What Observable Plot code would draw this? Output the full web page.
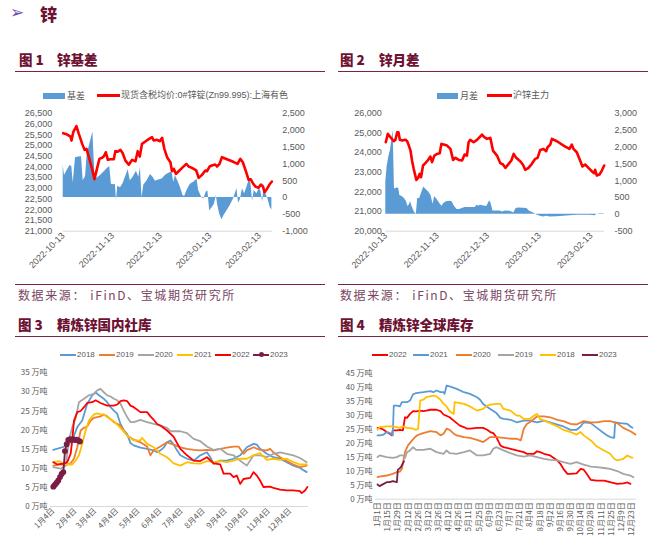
<!DOCTYPE html>
<html><head><meta charset="utf-8">
<script src="https://cdn.jsdelivr.net/npm/d3@7"></script>
<script src="https://cdn.jsdelivr.net/npm/@observablehq/plot@0.6"></script>
<style>
html,body{margin:0;padding:0;background:#fff;}
#root{position:relative;width:665px;height:546px;overflow:hidden;font-family:"Noto Sans CJK SC","Noto Sans",sans-serif;}
.abs{position:absolute;white-space:pre;line-height:1;}
.title{color:#6e1233;font-weight:900;font-size:13.5px;}
.rule{position:absolute;height:0;border-top:1.5px solid #7b2346;}
.src{color:#7a4563;font-size:12px;letter-spacing:1.6px;}
.leg{color:#595959;}
.panel{position:absolute;}
.panel svg{overflow:visible;}
</style></head><body><div id="root"></div>
<script>
// ================= DATA =================
// Figure 1: zinc basis (days since 2022-10-13)
const p1Names = ["基差", "现货含税均价:0#锌锭(Zn99.995):上海有色"];
const p1PriceDays = [0,2.5,4.6,5.2,6.3,8.3,9.8,11.9,13.4,14.6,16.1,18.1,19.6,21.3,22.7,24.4,25.4,26.7,28,29.6,31.7,32.7,34.2,35.9,37.3,39,41.1,43.2,45.3,46.7,48,49.4,51.5,53.6,55.7,56.7,58.8,60.5,62,63.4,65.1,67.2,68.2,69.3,70.7,72.4,74.5,77.2,78.6,80.7,83.4,84.9,87,89.1,90.1,91.8,93.2,95.3,96.4,98,99.5,102.6,105.8,109.3,111,112.6,114.7,116.2,117.6,118.9,120.4,122.4,123.9,125.2,126.2,127.7,129.3,130.8];
const p1Price = [25570,25505,25410,25225,25615,25895,25535,25070,24790,24840,24450,23905,23425,23950,24370,24420,24480,24680,24325,24355,24355,24730,24710,24790,24635,24290,24100,24325,24260,24730,24480,25070,25180,25290,25380,25225,25260,25195,25350,24840,24450,24215,23795,23905,23670,23795,23950,24140,24015,23950,23830,23485,23625,23830,23795,24015,24060,24110,24015,24140,24450,24355,24260,24140,24370,24215,23750,23390,23420,23235,23080,23020,23175,23080,22815,22970,23175,23315];
const p1BasisDays = [0,0.8,2.5,4.2,5.4,6.3,7.7,9.8,11.5,12.5,14,15,16.7,18.6,20,21.3,23.4,25.4,27.5,29.2,30.2,31.7,32.7,33.4,34.2,35.9,37.5,39,40.7,42.1,43.8,45.9,47.4,48.4,49.4,50.5,52.6,54.7,56.3,57.8,59.9,62,64,66.1,68.2,69.3,70.3,71.8,73.4,75.1,76.1,77.6,79.7,81.8,83.9,84.9,86.6,88,89.7,90.7,91.8,93.2,94.7,96,96.8,98,99.5,100.9,102.6,104.7,106.8,108.9,109.9,111,112.4,113.7,115.2,116.4,117.6,118.7,119.7,121.4,122.9,123.9,125,126,127,128.3,129.7,130.8];
const p1Basis = [950,650,800,950,920,430,1180,1200,1210,500,620,1250,1590,1940,540,580,650,750,850,920,390,380,390,-90,330,290,410,600,820,500,600,780,600,880,-10,360,500,680,600,480,520,550,650,720,750,450,650,500,310,60,30,210,390,450,540,210,30,-50,160,190,-390,-310,-210,60,-210,-480,-660,-530,-400,-240,-40,260,-170,-70,260,110,310,500,450,-110,210,110,260,190,-140,400,110,-40,-290,-370];
const p1LeftTicks = [21000,21500,22000,22500,23000,23500,24000,24500,25000,25500,26000,26500];
const p1RightTicks = [-1000,-500,0,500,1000,1500,2000,2500];

// Figure 2: zinc calendar spread
const p2Names = ["月差", "沪锌主力"];
const p2PriceDays = [0,1.2,2.8,4.8,5.8,6.8,7.6,8.4,9.8,11.8,12.8,13.8,14.8,15.7,16.7,18.3,19.3,20.3,21.1,22.3,23.7,25.1,26.7,27.7,29.1,30.7,32.3,33.3,34.7,36.7,38.7,40.3,41.7,43.7,45.7,47.2,48.6,49.6,50.6,52.6,54.6,56.6,57.6,59,60.6,62.6,64.2,66.6,68.6,70.2,71.6,73.6,75.2,76.6,78.1,80.5,82.1,83.5,85.5,87.5,89.5,90.9,92.5,94.5,96.1,96.9,98.5,99.5,102.5,106.5,110,111.4,112.4,114.4,116.4,117.8,119.4,121.4,123.4,124.8,125.4,126.4,128,129.4,130.8];
const p2Price = [24525,24950,24780,24575,24645,25035,25035,24645,24610,24645,24575,24355,24100,23595,23170,22610,22710,22915,22745,23340,23460,23595,23795,23510,23845,23930,23965,24440,24405,24355,24185,23625,23730,23625,23595,23900,23845,24525,24645,24525,24645,24815,24915,24780,24695,24745,24100,23845,23460,23390,23220,23425,23595,23930,23730,23560,23390,23120,23220,23425,23680,23730,24135,24185,24070,24270,24405,24695,24575,24355,24185,24405,24185,24015,23595,23290,23390,23220,23050,22950,23120,22830,22880,23085,23340];
const p2SpreadDays = [0,0.8,1.8,2.8,3.8,4.4,5.2,6,6.8,7.8,8.4,9.8,11.2,12.4,13.2,14,14.8,15.7,17.1,18.3,19.1,20.3,21.3,22.7,24.3,25.7,27.1,28.3,29.3,30.7,32.3,33.7,34.7,36.3,38.3,39.7,41.1,42.7,44.3,45.7,47.6,49.6,51.6,53.6,54.6,55.6,56.6,59.6,60.6,62.2,63,64.2,66.6,68.6,69.6,71.6,74.6,76.6,78.1,79.5,82.5,84.5,86.1,88.5,90.5,92.5,94.5,96.5,98.5,102.5,106.5,110.4,114.4,118.4,122.4,125.4,126.4,128.4,130.8];
const p2Spread = [960,1420,1700,1900,2290,2480,760,760,790,760,560,530,470,370,240,270,370,240,70,0,470,470,610,810,730,660,560,300,530,440,320,240,320,370,390,370,240,140,140,170,200,200,200,200,270,240,270,240,240,400,340,100,100,100,70,100,90,40,170,190,180,170,90,40,-20,-60,-80,-60,-80,-70,-60,-40,-30,-30,-30,-40,0,20,20];
const p2LeftTicks = [20000,21000,22000,23000,24000,25000,26000];
const p2RightTicks = [-500,0,500,1000,1500,2000,2500,3000];

const dateTickLabels = ["2022-10-13","2022-11-13","2022-12-13","2023-01-13","2023-02-13"];

// Figure 3: domestic social inventory, [day of year, 万吨]
const p3Years = ["2018","2019","2020","2021","2022","2023"];
const inv3_2018 = [[4,14.8],[23.7,15.9],[30.7,17.3],[37.8,20.8],[44.8,22.5],[51.8,26.9],[58.9,29.1],[63.6,29.9],[68.3,29.1],[75.3,28.2],[80,27.3],[84.7,26],[89.4,25.1],[94.1,24.3],[98.7,21.6],[103.4,19.9],[108.1,19],[112.8,16.6],[117.5,16],[126.9,15.4],[136.3,15.1],[145.7,14.7],[150.3,14.2],[155,14.7],[159.7,15.4],[164.4,16.8],[169.1,17.3],[173.8,16.2],[178.5,14.7],[183.2,13.4],[192.6,12.5],[202,12],[211.3,13.4],[216,13.8],[220.7,14.2],[225.4,12.9],[230.1,11.2],[239.5,12],[248.8,12],[258.2,12.5],[267.6,13.4],[277,15.5],[286.4,16.4],[291.1,16.2],[295.7,15.1],[305.1,13.8],[314.5,12.9],[323.9,12.5],[333.3,11.6],[342.7,10.7],[352,10.1],[361.4,9]];
const inv3_2019 = [[4,10.7],[14.3,11],[23.7,11],[28.4,11.3],[33.1,12.5],[37.8,15.5],[42.5,19.9],[47.2,20.6],[51.8,20.9],[56.5,22.5],[61.2,23.2],[70.6,23.6],[75.3,24.1],[80,23.6],[89.4,22.1],[98.7,21.2],[108.1,18.6],[117.5,17.5],[126.9,16.8],[136.3,15.7],[141,13.4],[145.7,14.7],[155,15.7],[164.4,16.8],[173.8,16.2],[183.2,15.5],[192.6,15.1],[202,14.8],[211.3,14.7],[220.7,14.8],[230.1,14.7],[239.5,15.1],[248.8,15.4],[258.2,15.7],[265.3,15.7],[272.3,13.8],[277,14.7],[286.4,15.5],[295.7,14.8],[305.1,14.7],[309.8,15.1],[314.5,14.2],[323.9,12.9],[333.3,11.9],[342.7,11],[352,10.3],[361.4,10.7]];
const inv3_2020 = [[4,10.3],[14.3,9.9],[21.4,10.7],[26,17.3],[30.7,20.8],[35.4,23],[40.1,27.3],[47.2,28.2],[54.2,29.1],[61.2,29.5],[65.9,30.4],[70.6,30.8],[75.3,29.9],[80,29.1],[84.7,28.8],[89.4,28.2],[94.1,27.8],[98.7,26.9],[103.4,25.1],[108.1,23.4],[112.8,22.1],[117.5,22.1],[126.9,22.7],[136.3,22.1],[145.7,21.6],[155,21.2],[164.4,20.6],[169.1,19.7],[173.8,19.7],[183.2,19.7],[192.6,19.2],[202,17.7],[211.3,17.1],[220.7,15.7],[230.1,14.8],[239.5,15.1],[248.8,13.8],[258.2,13.4],[267.6,12],[277,10.7],[286.4,13.4],[295.7,13.4],[305.1,12.9],[314.5,13.8],[323.9,14.2],[333.3,13.8],[342.7,13.4],[352,12.7],[361.4,11.6]];
const inv3_2021 = [[4,11.6],[12,11.9],[19,11.2],[23.7,11],[30.7,11],[35.4,12],[40.1,13.4],[44.8,16.4],[49.5,19.9],[54.2,22.5],[61.2,24.1],[65.9,24.4],[70.6,24.1],[75.3,24.1],[80,23.4],[89.4,22.3],[98.7,20.6],[108.1,18.6],[117.5,17.3],[126.9,17.3],[129.2,18],[136.3,16.4],[145.7,15.5],[155,13.8],[164.4,12.9],[173.8,11.3],[183.2,10.7],[192.6,11.6],[202,11.3],[211.3,11.2],[220.7,11.9],[230.1,11.6],[239.5,11.9],[248.8,11.6],[258.2,12],[267.6,12.5],[277,12.5],[286.4,13.4],[295.7,14],[305.1,12.2],[314.5,12.5],[323.9,12.2],[333.3,12.5],[342.7,11.6],[352,11],[361.4,11]];
const inv3_2022 = [[4,11.6],[9.6,11],[19,11.2],[23.7,11.6],[28.4,13.8],[30.7,17.3],[33.1,22.5],[37.8,24.7],[42.5,25],[47.2,26],[51.8,27.1],[58.9,27.3],[63.6,27.8],[70.6,27.1],[80,26.4],[89.4,26.4],[94.1,26.7],[98.7,27.6],[103.4,27.8],[108.1,27.6],[112.8,26.4],[117.5,26],[126.9,24.7],[136.3,24.7],[141,23.6],[145.7,22.7],[150.3,21.6],[155,21.2],[164.4,19.9],[173.8,18.2],[183.2,15.1],[192.6,13.4],[202,12],[211.3,11.9],[220.7,12.9],[230.1,11.3],[239.5,11],[244.2,8.6],[253.5,8.6],[258.2,7.7],[262.9,8.1],[267.6,5.9],[272.3,7.2],[281.7,7.5],[286.4,9],[291.1,8.1],[295.7,6.8],[300.4,5.1],[309.8,5.2],[314.5,4.9],[323.9,4.4],[333.3,4.2],[342.7,4.2],[352,4],[354.4,3.5],[359.1,4.2],[362.4,5.1]];
const inv3_2023 = [[4,5.2],[6.3,5.7],[8.7,6.2],[11,6.8],[13.4,7.7],[15.7,8.5],[18.1,9],[20.4,14.5],[22.8,16.3],[25.1,17.4],[27.5,17.6],[29.8,17.5],[32.1,17.6],[34.5,17.4],[36.8,17.5],[39.2,17.3],[41.5,17]];
const p3TickDays = [4,35,63,94,124,155,185,216,247,277,308,338];
const p3TickLabels = ["1月4日","2月4日","3月4日","4月4日","5月4日","6月4日","7月4日","8月4日","9月4日","10月4日","11月4日","12月4日"];
const p3YTicks = [0,5,10,15,20,25,30,35];

// Figure 4: global refined zinc inventory, [trading-day index, 万吨]
const p4Years = ["2022","2021","2020","2019","2018","2023"];
const inv4_2022 = [[0,25.6],[2,25.6],[6,24.9],[9,24.1],[12,23.5],[14,22.9],[15,24.7],[19,24.7],[22,24.9],[25,24.7],[27,29.4],[29,29.2],[32,30.6],[35,31.6],[38,31.5],[42,31.8],[45,31.6],[48,31.8],[52,32.1],[58,32.1],[62,31.6],[65,30.4],[71,29.4],[75,28.2],[78,27.3],[81,26.4],[85,25.9],[88,25.3],[91,25.3],[98,25.6],[104,25.6],[108,24.9],[111,24.1],[114,23.7],[117,22.3],[121,19.3],[124,18.7],[131,18.1],[137,17.5],[144,16.9],[147,16.3],[154,16.3],[157,17.2],[160,16.9],[164,16.3],[170,15.7],[177,13.9],[180,12.7],[183,10.9],[187,9.1],[190,9.1],[196,9.3],[200,10.9],[203,10.6],[206,9.1],[210,6.9],[216,6.7],[223,6.7],[229,6.1],[236,5.5],[242,5.7],[246,6],[249,5.5]];
const inv4_2021 = [[0,22.9],[2,22.9],[6,23.2],[9,24.1],[12,23.8],[15,22.9],[16,33.6],[19,33.6],[22,33.3],[24,34.8],[29,34.8],[32,35.4],[34,36.9],[35,37.6],[38,38.1],[45,38.4],[52,38.8],[55,38.4],[58,39],[62,38.4],[65,38.4],[66,37.8],[68,40.8],[71,40.5],[78,39.6],[85,38.4],[91,37.8],[98,36.6],[101,35.7],[104,34.2],[111,32.4],[117,30.9],[121,29.2],[124,28.8],[131,28.5],[137,27.6],[144,28.2],[150,28.2],[157,27.6],[164,28.2],[170,27.6],[177,26.8],[183,26.1],[190,24.9],[196,24.9],[200,26.1],[203,27.6],[210,27.3],[216,25.6],[223,23.7],[226,22.9],[229,22.3],[233,22],[234,27.6],[239,27.3],[246,27],[249,26.1],[251,25.6]];
const inv4_2020 = [[0,7.9],[2,8.1],[9,8.5],[15,9.1],[19,9.7],[22,9.9],[24,10.9],[27,16.9],[30,19.3],[34,21.1],[37,22.3],[40,23.1],[45,23.7],[52,24.4],[58,24.1],[62,22.9],[65,23.5],[68,25.3],[71,24.9],[75,23.5],[78,22.9],[85,22.3],[91,22],[98,21.3],[104,20.5],[111,22.3],[117,22.3],[124,22],[131,21.7],[137,21.7],[141,21.1],[144,25.3],[147,27],[150,27.6],[154,28.8],[157,29.7],[164,29.7],[170,29.4],[177,28.5],[183,28],[190,27],[196,26.8],[203,28],[210,27.6],[216,27.6],[223,28],[229,28],[236,27.3],[242,25.6],[249,24.4],[254,23.2]];
const inv4_2019 = [[0,15.1],[2,15.7],[9,15.1],[15,14.8],[19,15.1],[22,15.7],[25,15.7],[27,14.8],[29,16.9],[32,17.5],[35,18.7],[38,17.7],[45,17.7],[52,18.1],[58,16.9],[65,16.3],[68,17.5],[71,16.5],[78,16.3],[85,16.9],[91,17.5],[98,15.7],[104,15.7],[111,16.3],[114,18.1],[117,18.7],[124,17.5],[131,16.5],[137,15.7],[144,15.3],[150,15.7],[157,15.1],[164,14.5],[170,14.1],[177,13.9],[183,13.3],[190,12.7],[196,13.3],[203,12.4],[210,11.7],[216,11.5],[223,11.2],[229,10.9],[236,10.1],[242,9.1],[249,8.5],[252,7.9]];
const inv4_2018 = [[0,24.9],[2,25.9],[9,26.1],[15,26.1],[22,25.6],[25,26.1],[29,25.6],[35,25.3],[38,24.9],[40,25.3],[42,35.4],[45,35.7],[48,36.6],[55,37.2],[58,36.9],[62,35.7],[65,34.2],[68,33.3],[71,31.6],[75,30.6],[76,34.8],[81,34.5],[85,34.2],[91,33.3],[98,31.8],[104,32.4],[108,33.6],[111,33.9],[117,34.2],[121,34.2],[124,32.4],[131,31.8],[137,30],[140,30],[144,28.8],[150,28.8],[154,30],[157,30.6],[160,28.8],[164,28.2],[170,27.3],[177,26.1],[183,24.9],[190,24.1],[196,23.2],[200,24.1],[203,22.9],[210,21.1],[216,18.9],[223,17.5],[229,16.3],[233,14.5],[236,13.9],[242,14.5],[246,15.7],[249,15.1],[251,14.9]];
const inv4_2023 = [[0,5.3],[2,4.7],[6,5.5],[9,6.1],[12,6.1],[15,6.5],[19,6.1],[20,10.5],[23,11.5],[25,12.9],[26,13.6]];
const p4TickLabels = ["1月1日","1月15日","1月29日","2月12日","2月26日","3月12日","3月26日","4月12日","4月26日","5月11日","5月25日","6月9日","6月23日","7月7日","7月21日","8月4日","8月18日","9月2日","9月16日","9月30日","10月14日","10月28日","11月11日","11月25日","12月9日","12月23日"];
const p4YTicks = [0,5,10,15,20,25,30,35,40,45];

// ================= LAYOUT / STYLE =================
const colors = {"2018":"#5b9bd5","2019":"#ed7d31","2020":"#a5a5a5","2021":"#ffc000","2022":"#ff0000","2023":"#7a1e45"};
const p4Colors = {"2022":"#ff0000","2021":"#5b9bd5","2020":"#ed7d31","2019":"#a5a5a5","2018":"#ffc000","2023":"#7a1e45"};
const numFont = '"Liberation Sans","Noto Sans CJK SC",sans-serif';
const cjkFont = '"Noto Sans CJK SC","Noto Sans",sans-serif';
const fmt = d3.formatLocale({decimal:".",thousands:",",grouping:[3],currency:["",""],minus:"-"}).format(",");
const root = document.getElementById("root");

function text(str, left, cy, size, cls, extra) {
  const el = document.createElement("div");
  el.className = "abs " + (cls || "");
  el.textContent = str;
  el.style.left = left + "px";
  el.style.top = (cy - size / 2) + "px";
  el.style.fontSize = size + "px";
  if (extra) Object.assign(el.style, extra);
  root.appendChild(el);
  return el;
}
function box(left, top, w, h, bg, extra) {
  const el = document.createElement("div");
  Object.assign(el.style, {position:"absolute", left:left+"px", top:top+"px", width:w+"px", height:h+"px", background:bg}, extra || {});
  root.appendChild(el);
  return el;
}
function rule(left, top, w) {
  const el = document.createElement("div");
  el.className = "rule";
  Object.assign(el.style, {left:left+"px", top:top+"px", width:w+"px"});
  root.appendChild(el);
}
function mount(svg, left, top) {
  const d = document.createElement("div");
  d.className = "panel";
  d.style.left = left + "px"; d.style.top = top + "px";
  d.appendChild(svg);
  root.appendChild(d);
}

// Header
text("➢", 10, 12, 17, "", {color:"#6a4fb0", fontFamily:'"DejaVu Sans",sans-serif'});
text("锌", 40, 13.5, 17, "title", {fontSize:"17px"});

// Titles, rules and sources
text("图 1", 19, 60, 13.5, "title");
text("锌基差", 57, 60, 13.5, "title");
text("图 2", 340, 60, 13.5, "title");
text("锌月差", 379, 60, 13.5, "title");
rule(15, 71, 310); rule(338, 71, 310);
rule(15, 284, 310); rule(338, 284, 310);
text("数据来源： iFinD、宝城期货研究所", 18, 295, 12, "src");
text("数据来源： iFinD、宝城期货研究所", 340, 295, 12, "src");
text("图 3", 18, 325, 13.5, "title");
text("精炼锌国内社库", 57, 325, 13.5, "title");
text("图 4", 340, 325, 13.5, "title");
text("精炼锌全球库存", 379, 325, 13.5, "title");
rule(15, 336, 310); rule(338, 336, 310);

// Legends
function areaLineLegend(names, sx, tx, lx, ltx, cy) {
  box(sx, cy - 3, tx - sx - 2, 6, "#5b9bd5");
  text(names[0], tx, cy, 9, "leg", {fontFamily: cjkFont});
  box(lx, cy - 1.25, ltx - lx - 1, 2.5, "#ff0000");
  text(names[1], ltx, cy, 9, "leg", {fontFamily: numFont});
}
areaLineLegend(p1Names, 43, 67, 97, 121, 95.5);
areaLineLegend(p2Names, 437, 460, 487, 513, 95.5);

function lineLegend(years, cmap, xs, cy, markerYear) {
  years.forEach((y, i) => {
    const x0 = xs[i];
    box(x0, cy - 1, 16, 2, cmap[y]);
    if (y === markerYear) box(x0 + 5.5, cy - 2.5, 5, 5, cmap[y], {borderRadius:"50%"});
    text(y, x0 + 17, cy, 8, "leg", {fontFamily: numFont});
  });
}
lineLegend(p3Years, colors, [60,99,138,177,215,253], 354.5, "2023");
lineLegend(p4Years, p4Colors, [372,413,456,498,540,582], 355, null);

// ================= CHARTS =================
function dualPanel(o) {
  const base = Date.UTC(2022, 9, 13);
  const day = d => new Date(base + d * 864e5);
  const k = (o.leftDom[1] - o.leftDom[0]) / (o.rightDom[1] - o.rightDom[0]);
  const toL = v => o.leftDom[0] + (v - o.rightDom[0]) * k;
  const fromL = y => o.rightDom[0] + (y - o.leftDom[0]) / k;
  const priceData = o.priceDays.map((d, i) => ({date: day(d), v: o.price[i]}));
  const areaData = o.areaDays.map((d, i) => ({date: day(d), v: o.area[i]}));
  return Plot.plot({
    width: o.width, height: 178,
    marginTop: 12.7, marginBottom: 47.3, marginLeft: o.ml, marginRight: o.mr,
    x: {type: "utc", domain: [day(0), day(131)]},
    y: {domain: o.leftDom},
    style: {fontSize: "9px", fontFamily: numFont, color: "#595959", background: "transparent", overflow: "visible"},
    marks: [
      Plot.areaY(areaData, {x: "date", y1: () => toL(0), y2: d => toL(d.v), fill: "#5b9bd5"}),
      Plot.ruleY([o.leftDom[0]], {stroke: "#d9d9d9"}),
      Plot.lineY(priceData, {x: "date", y: "v", stroke: "#ff0000", strokeWidth: 2.6}),
      Plot.axisY(o.leftTicks, {anchor: "left", tickSize: 0, tickPadding: o.lp, tickFormat: fmt, label: null}),
      Plot.axisY(o.rightTicks.map(toL), {anchor: "right", tickSize: 0, tickPadding: 10, textAnchor: "start", tickFormat: d => fmt(Math.round(fromL(d))), label: null}),
      Plot.axisX(dateTickLabels.map(s => new Date(s)), {tickSize: 0, tickRotate: -45, tickPadding: 3, tickFormat: d3.utcFormat("%Y-%m-%d"), label: null})
    ]
  });
}

mount(dualPanel({
  width: 330, ml: 62.7, mr: 58.3, lp: 11,
  priceDays: p1PriceDays, price: p1Price, areaDays: p1BasisDays, area: p1Basis,
  leftDom: [21000, 26500], rightDom: [-1000, 2500], leftTicks: p1LeftTicks, rightTicks: p1RightTicks
}), 0, 100);

mount(dualPanel({
  width: 335, ml: 55.3, mr: 61, lp: 4,
  priceDays: p2PriceDays, price: p2Price, areaDays: p2SpreadDays, area: p2Spread,
  leftDom: [20000, 26000], rightDom: [-500, 3000], leftTicks: p2LeftTicks, rightTicks: p2RightTicks
}), 330, 100);

// Figure 3
const p3Series = {"2018": inv3_2018, "2019": inv3_2019, "2020": inv3_2020, "2021": inv3_2021, "2022": inv3_2022, "2023": inv3_2023};
const p3Marks = p3Years.map(y => Plot.line(p3Series[y], {x: d => d[0], y: d => d[1], stroke: colors[y], strokeWidth: 1.8}));
mount(Plot.plot({
  width: 330, height: 184,
  marginTop: 10.3, marginBottom: 40, marginLeft: 50, marginRight: 22,
  x: {domain: [0, 364]},
  y: {domain: [0, 35]},
  style: {fontSize: "8px", fontFamily: cjkFont, color: "#595959", background: "transparent", overflow: "visible"},
  marks: [
    Plot.ruleY([0], {stroke: "#d9d9d9"}),
    ...p3Marks,
    Plot.dot(inv3_2023, {x: d => d[0], y: d => d[1], r: 2.2, fill: colors["2023"], stroke: colors["2023"]}),
    Plot.axisY(p3YTicks, {anchor: "left", tickSize: 0, tickPadding: 3, tickFormat: d => d + " 万吨", label: null}),
    Plot.axisX(p3TickDays, {tickSize: 0, tickRotate: -45, tickPadding: 3, tickFormat: d => p3TickLabels[p3TickDays.indexOf(d)], label: null})
  ]
}), 0, 362);

// Figure 4
const p4Series = {"2022": inv4_2022, "2021": inv4_2021, "2020": inv4_2020, "2019": inv4_2019, "2018": inv4_2018, "2023": inv4_2023};
const p4Marks = p4Years.map(y => Plot.line(p4Series[y], {x: d => d[0], y: d => d[1], stroke: p4Colors[y], strokeWidth: 1.8}));
const p4TickIdx = p4TickLabels.map((_, i) => i * 10);
mount(Plot.plot({
  width: 335, height: 184,
  marginTop: 11.3, marginBottom: 47.3, marginLeft: 45, marginRight: 29,
  x: {domain: [-2, 255]},
  y: {domain: [0, 45]},
  style: {fontSize: "8px", fontFamily: cjkFont, color: "#595959", background: "transparent", overflow: "visible"},
  marks: [
    Plot.ruleY([0], {stroke: "#d9d9d9"}),
    ...p4Marks,
    Plot.axisY(p4YTicks, {anchor: "left", tickSize: 0, tickPadding: 3, tickFormat: d => d + " 万吨", label: null}),
    Plot.axisX(p4TickIdx, {tickSize: 0, tickRotate: -90, tickPadding: 3, tickFormat: d => p4TickLabels[d / 10], label: null})
  ]
}), 330, 362);
</script></body></html>
